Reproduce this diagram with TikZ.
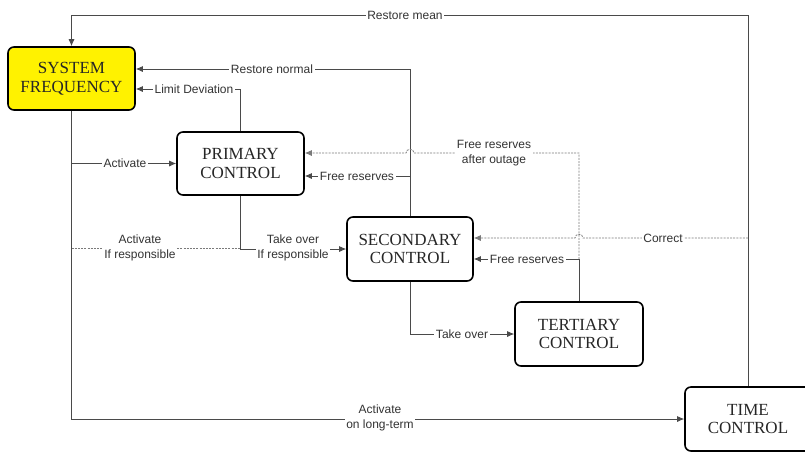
\documentclass[tikz,border=0pt]{standalone}
\usepackage{fontspec}
\setmainfont{Liberation Serif}
\newfontfamily\lblfont{Liberation Sans}
\usetikzlibrary{arrows.meta,calc}
\definecolor{linec}{HTML}{4A4A4A}
\definecolor{dashc}{HTML}{7A7A7A}
\definecolor{txtc}{HTML}{333333}
\definecolor{sfyellow}{HTML}{FFF200}
\tikzset{
  box/.style={draw=black,line width=1.6pt,rounded corners=6pt,minimum width=127pt,minimum height=63pt,
    align=center,font=\fontsize{17}{18.5}\selectfont,text=black!85},
  conn/.style={draw=linec,line width=0.8pt},
  arr/.style={conn,-{Latex[length=7pt,width=6pt]}},
  dconn/.style={draw=dashc,line width=0.8pt,dash pattern=on 2pt off 1.2pt},
  darr/.style={dconn,-{Latex[length=7pt,width=6pt]}},
  lbl/.style={fill=white,inner sep=1.5pt,align=center,text=txtc,font=\lblfont\fontsize{12}{14.5}\selectfont},
}
\begin{document}
\begin{tikzpicture}[x=1pt,y=-1pt]
\useasboundingbox (0,0) rectangle (805,451);
\clip (0,0) rectangle (805,451);
% nodes
\node[box,fill=sfyellow] (sf) at (71.5,78.5) {SYSTEM\\FREQUENCY};
\node[box,fill=white] (prim) at (240.5,163.5) {PRIMARY\\CONTROL};
\node[box,fill=white,minimum height=64pt,minimum width=126pt] (sec) at (410,249) {SECONDARY\\CONTROL};
\node[box,fill=white,minimum height=64pt,minimum width=128pt] (ter) at (579,334) {TERTIARY\\CONTROL};
\node[box,fill=white,minimum height=64pt,minimum width=126pt] (tc) at (748,419) {TIME\\CONTROL};
% Restore mean
\draw[arr] (tc.north) -- (tc.north |- 0,15) -| (sf.north);
\node[lbl] (l1) at (405,15) {Restore mean};
% Restore normal
\draw[arr] (sec.north) |- (sf.east |- 0,69);
\node[lbl] (l2) at (272,69) {Restore normal};
% Limit deviation
\draw[arr] (prim.north) |- (sf.east |- 0,89);
\node[lbl] (l3) at (194,89) {Limit Deviation};
% Activate
\draw[arr] (sf.south |- prim.west) -- (prim.west);
\node[lbl] (l4) at (125,163) {Activate};
% Activate on long-term
\draw[arr] (sf.south) |- (tc.west);
\node[lbl] (l5) at (380,418) {Activate\\on long-term};
% Activate if responsible (dashed)
\draw[dconn] (sf.south |- 0,248) -- (prim.south |- 0,248);
\node[lbl] (l6) at (140,248) {Activate\\If responsible};
% Take over if responsible
\draw[arr] (prim.south) |- (sec.west);
\node[lbl] (l7) at (293,248) {Take over\\If responsible};
% Free reserves (secondary -> primary)
\draw[arr] (sec.north |- 0,176) -- (prim.east |- 0,176);
\node[lbl] (l8) at (357,176) {Free reserves};
% Free reserves after outage (dashed, with hop over x=410)
\draw[darr] (ter.north |- 0,259) -- (579,153) -- (414,153) .. controls (414,148) and (406,148) .. (406,153) -- (prim.east |- 0,153);
\node[lbl] (l9) at (494,153) {Free reserves\\after outage};
% Free reserves (tertiary -> secondary)
\draw[arr] (ter.north) |- (sec.east |- 0,259);
\node[lbl] (l10) at (527,259) {Free reserves};
% Correct (dashed, hop over x=579)
\draw[darr] (tc.north |- 0,238) -- (583,238) .. controls (583,233) and (575,233) .. (575,238) -- (sec.east |- 0,238);
\node[lbl] (l11) at (663,238) {Correct};
% Take over
\draw[arr] (sec.south) |- (ter.west);
\node[lbl] (l12) at (462,334) {Take over};
\end{tikzpicture}
\end{document}
